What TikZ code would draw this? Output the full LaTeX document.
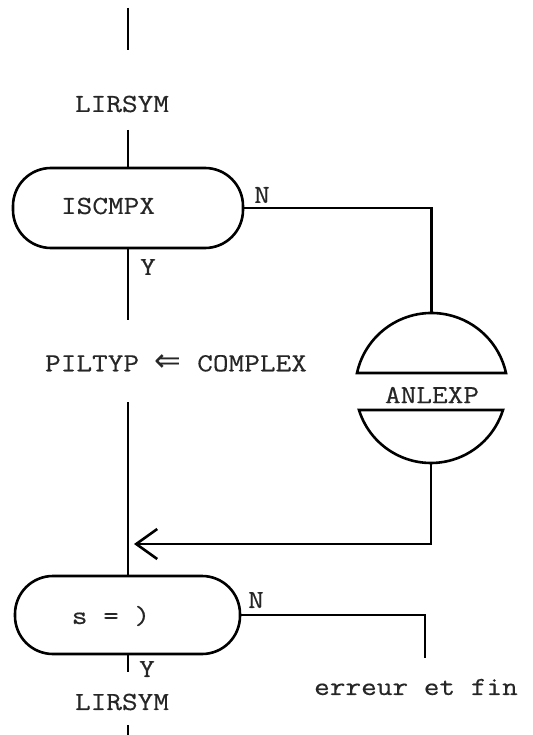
\documentclass[tikz,border=0pt]{standalone}
\usepackage{fontspec}
\setmonofont{Latin Modern Mono}[FakeStretch=1.17,FakeBold=0.4]
\newfontfamily\symfont{DejaVu Sans}
\usetikzlibrary{arrows.meta}
\begin{document}
\begin{tikzpicture}[x=1pt,y=1pt,
  line width=2.6pt,
  txt/.style={font=\ttfamily\fontsize{26}{30}\selectfont, inner sep=0pt, text=black!85},
  stadium/.style={draw, rectangle, rounded corners=38pt, inner sep=0pt},
  flow/.style={draw, line cap=butt}]
\useasboundingbox (0,0) rectangle (532,-735);
\fill[white] (0,0) rectangle (532,-735);

% texts
\node[txt] (lir1) at (122,-104) {LIRSYM};
\node[stadium, minimum width=230pt, minimum height=80pt] (d1) at (128,-208) {};
\node[txt] (t1) at (108,-206) {ISCMPX};
\node[txt] (n1) at (262,-195) {N};
\node[txt] (y1) at (148,-267) {Y};
\node[txt] (pil) at (176,-363) {PILTYP {\symfont\fontsize{32}{32}\selectfont ⇐} COMPLEX};
\node[txt] (anl) at (432,-395) {ANLEXP};
\node[stadium, minimum width=225pt, minimum height=78pt] (d2) at (127.5,-615) {};
\node[txt] (t2) at (111,-616) {s = )};
\node[txt] (n2) at (256,-600) {N};
\node[txt] (y2) at (147,-669) {Y};
\node[txt] (lir2) at (122,-702) {LIRSYM};
\node[txt] (err) at (416,-687) {erreur et fin};

% ANLEXP shape
\coordinate (anltop) at (431.5,-313);
\coordinate (anlbot) at (431,-463);
\draw (357,-373) arc[start angle=167.7, end angle=12.3, radius=76.25] -- cycle;
\draw (359,-410) arc[start angle=197.3, end angle=342.7, radius=75.4] -- cycle;

% free ends
\coordinate (a0) at (128,-8);
\coordinate (a1) at (128,-50);
\coordinate (a2) at (128,-130);
\coordinate (a3) at (128,-320);
\coordinate (a4) at (128,-402);
\coordinate (join) at (134,-544);
\coordinate (e1) at (425,-658);
\coordinate (a5) at (128,-672);
\coordinate (a6) at (128,-725);
\coordinate (a7) at (128,-735);

% connectors
\draw[flow] (a0) -- (a1);
\draw[flow] (a2) -- (d1.north -| a2);
\draw[flow] (d1.south -| a3) -- (a3);
\draw[flow] (a4) -- (d2.north -| a4);
\draw[flow] (d1.east) -| (anltop);
\draw[flow, -{Straight Barb[length=21pt,width=30pt,line width=2.6pt]}] (anlbot) |- (join);
\draw[flow] (d2.east) -| (e1);
\draw[flow] (d2.south -| a5) -- (a5);
\draw[flow] (a6) -- (a7);
\end{tikzpicture}
\end{document}
